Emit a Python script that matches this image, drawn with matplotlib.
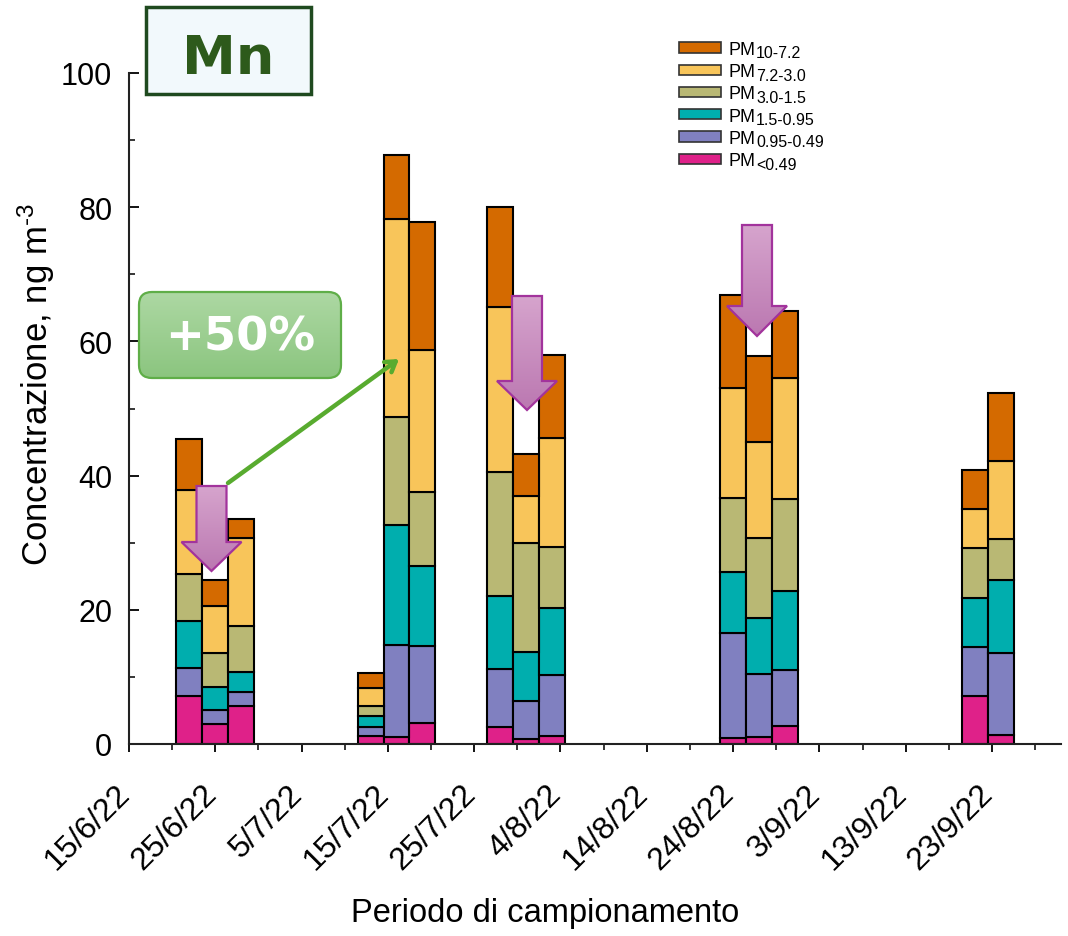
import numpy as np
import pandas as pd
import matplotlib
matplotlib.use('Agg')
import matplotlib.pyplot as plt
import matplotlib.dates as mdates
import matplotlib.transforms as mtransforms
from matplotlib.colors import to_rgb
from matplotlib.patches import Patch, Polygon, Rectangle, FancyBboxPatch

plt.rcParams['font.family'] = ['Liberation Sans', 'DejaVu Sans']
plt.rcParams['mathtext.fontset'] = 'custom'
plt.rcParams['mathtext.rm'] = 'Liberation Sans'
plt.rcParams['mathtext.it'] = 'Liberation Sans:italic'
plt.rcParams['mathtext.bf'] = 'Liberation Sans:bold'

# sampling days (centre of each 3-day sample)
dates = ['2022-06-22', '2022-06-25', '2022-06-28',
         '2022-07-13', '2022-07-16', '2022-07-19',
         '2022-07-28', '2022-07-31', '2022-08-03',
         '2022-08-24', '2022-08-27', '2022-08-30',
         '2022-09-21', '2022-09-24']

# Mn concentration per size fraction, ng m-3 (bottom -> top)
pm_lt049 = [7.1, 3.0, 5.6, 1.2, 1.0, 3.1, 2.6, 0.7, 1.2, 0.9, 1.0, 2.7, 7.2, 1.4]
pm_095_049 = [4.3, 2.0, 2.2, 1.4, 13.8, 11.5, 8.6, 5.7, 9.1, 15.6, 9.4, 8.4, 7.3, 12.2]
pm_15_095 = [6.9, 3.5, 2.9, 1.5, 17.8, 11.9, 10.8, 7.3, 9.9, 9.2, 8.4, 11.7, 7.2, 10.8]
pm_30_15 = [7.1, 5.1, 6.9, 1.6, 16.2, 11.1, 18.6, 16.2, 9.2, 11.0, 11.9, 13.7, 7.5, 6.2]
pm_72_30 = [12.5, 7.0, 13.1, 2.7, 29.4, 21.1, 24.6, 7.0, 16.2, 16.4, 14.3, 18.0, 5.8, 11.6]
pm_10_72 = [7.6, 3.9, 2.9, 2.2, 9.6, 19.1, 14.9, 6.3, 12.4, 13.8, 12.8, 10.0, 5.8, 10.1]

fractions = [pm_lt049, pm_095_049, pm_15_095, pm_30_15, pm_72_30, pm_10_72]
size_ranges = ['<0.49', '0.95-0.49', '1.5-0.95', '3.0-1.5', '7.2-3.0', '10-7.2']
colors = ['#df2189', '#8080c0', '#00aeae', '#b9b874', '#f8c55a', '#d46a00']

tick_dates = ['2022-06-15', '2022-06-25', '2022-07-05', '2022-07-15', '2022-07-25',
              '2022-08-04', '2022-08-14', '2022-08-24', '2022-09-03', '2022-09-13',
              '2022-09-23']
tick_labels = ['15/6/22', '25/6/22', '5/7/22', '15/7/22', '25/7/22', '4/8/22',
               '14/8/22', '24/8/22', '3/9/22', '13/9/22', '23/9/22']

W, H = 1068, 937
fig = plt.figure(figsize=(W / 100, H / 100), dpi=100)
ax = fig.add_axes([129 / W, 1 - 745 / H, (1061 - 129) / W, (745 - 74) / H])

x = mdates.date2num(pd.to_datetime(dates))
bottom = np.zeros(len(x))
for vals, col in zip(fractions, colors):
    ax.bar(x, vals, width=3, bottom=bottom, color=col, edgecolor='black',
           linewidth=1.5, zorder=2)
    bottom += np.array(vals)

ax.set_xlim(mdates.date2num(pd.Timestamp('2022-06-15')),
            mdates.date2num(pd.Timestamp('2022-10-01')))
ax.set_ylim(0, 100)
ax.set_xticks(mdates.date2num(pd.to_datetime(tick_dates)))
ax.set_xticklabels(tick_labels, rotation=45, ha='right', rotation_mode='anchor')
ax.set_xticks(mdates.date2num(pd.date_range('2022-06-15', '2022-09-30', freq='5D')),
              minor=True)
ax.set_yticks(range(0, 101, 20))
ax.set_yticks(range(0, 101, 10), minor=True)

for s in ['top', 'right']:
    ax.spines[s].set_visible(False)
for s in ['left', 'bottom']:
    ax.spines[s].set_linewidth(1.5)
    ax.spines[s].set_color('#222222')

ax.tick_params(axis='y', which='major', direction='in', length=7, width=1.3,
               labelsize=22, pad=12)
ax.tick_params(axis='y', which='minor', direction='in', length=4, width=1.1)
ax.tick_params(axis='x', which='major', direction='out', length=6, width=1.3,
               labelsize=23, pad=8)
ax.tick_params(axis='x', which='minor', direction='out', length=4, width=1.1)

shift = mtransforms.ScaledTranslation(-14 / 100, -15 / 100, fig.dpi_scale_trans)
for lab in ax.get_xticklabels():
    lab.set_transform(lab.get_transform() + shift)

ax.set_ylabel(r'Concentrazione, ng m$^{\text{-3}}$', fontsize=25)
ax.yaxis.set_label_coords(-0.077, 0.537)
ax.set_xlabel('Periodo di campionamento', fontsize=23.5)
ax.xaxis.set_label_coords(0.446, -0.228)

# legend: "PM" with large subscripts added afterwards
handles = [Patch(facecolor=c, edgecolor='#333333', linewidth=1.2) for c in colors]
leg = fig.legend(handles[::-1], ['PM'] * len(colors), loc='upper left',
                 bbox_to_anchor=(679 / W, 1 - 42 / H), frameon=False, fontsize=13,
                 handlelength=2.3, handleheight=0.5, handletextpad=0.45,
                 labelspacing=0.29, borderpad=0, borderaxespad=0)
fig.canvas.draw()
for txt, sub in zip(leg.get_texts(), size_ranges[::-1]):
    bb = txt.get_window_extent()
    fig.text(bb.x1 + 0.5, bb.y0 + 0.5, sub, fontsize=11.5, ha='left', va='baseline',
             transform=mtransforms.IdentityTransform())

# overlay in pixel coordinates for the annotations
ov = fig.add_axes([0, 0, 1, 1], zorder=5)
ov.patch.set_alpha(0)
ov.axis('off')


def grad_fill(patch, top_color, bottom_color, x0, x1, y0, y1):
    t = np.linspace(0, 1, 256)[:, None]
    img = np.array(to_rgb(top_color)) * (1 - t) + np.array(to_rgb(bottom_color)) * t
    im = ov.imshow(img[:, None, :], extent=[x0, x1, y1, y0], origin='upper',
                   aspect='auto', interpolation='bilinear', zorder=patch.get_zorder() - 0.1)
    im.set_clip_path(patch)


# Mn label box
ov.add_patch(Rectangle((146, 8), 165, 87, facecolor='#f2f9fc', edgecolor='#1f4a1f',
                       linewidth=2.5, zorder=3))
ov.text(228, 74, 'Mn', fontsize=39, fontweight='bold', color='#2d5a1b',
        family='DejaVu Sans', ha='center', va='baseline', zorder=4)

# +50% box
box = FancyBboxPatch((139, 293), 202, 86, boxstyle='round,pad=0,rounding_size=13',
                     facecolor='none', edgecolor='#5fae48', linewidth=1.6, zorder=3)
ov.add_patch(box)
grad_fill(box, '#add8a3', '#8bc57f', 139, 341, 293, 379)
ov.text(240, 351, '+50%', fontsize=33.5, fontweight='bold', color='white',
        family='DejaVu Sans', ha='center', va='baseline', zorder=4)

# green arrow
ov.annotate('', xy=(399, 360), xytext=(228, 484),
            arrowprops=dict(arrowstyle='->,head_length=0.7,head_width=0.45',
                            color='#58ab2f', lw=3.2, shrinkA=0, shrinkB=0), zorder=3)

# purple down arrows
for cx, top, hs, tip in [(211.5, 487, 543, 572), (527, 297, 382, 411), (757, 226, 307, 337)]:
    pts = [(cx - 15, top), (cx + 15, top), (cx + 15, hs), (cx + 30, hs), (cx, tip),
           (cx - 30, hs), (cx - 15, hs)]
    arr = Polygon(pts, closed=True, facecolor='none', edgecolor='#a2339c',
                  linewidth=1.6, zorder=4)
    ov.add_patch(arr)
    grad_fill(arr, '#d6a4cd', '#bb78b1', cx - 30, cx + 30, top, tip)

ov.set_xlim(0, W)
ov.set_ylim(H, 0)

fig.savefig('out.png', dpi=100)
